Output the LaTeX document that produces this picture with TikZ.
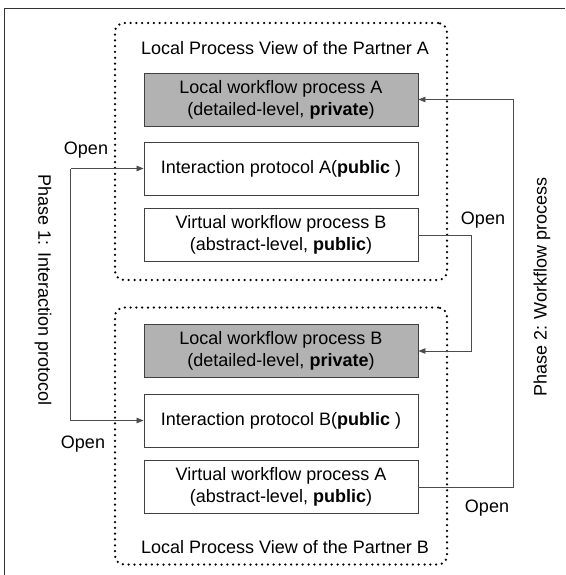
\documentclass[tikz,border=0pt]{standalone}
\usepackage{fontspec}
\setmainfont{Liberation Sans}
\usetikzlibrary{arrows.meta}

\begin{document}
\begin{tikzpicture}[x=1pt, y=-1pt,
  txt/.style={font=\fontsize{18}{22}\selectfont, align=center, inner sep=0pt},
  procbox/.style={txt, draw=black!75, line width=0.9pt, minimum width=274, minimum height=53},
  privbox/.style={procbox, fill=black!30},
  viewbox/.style={draw, line width=2.5pt, dash pattern=on 0pt off 5.8pt, line cap=round,
    rounded corners=9pt, minimum width=332, minimum height=257, inner sep=0pt},
  conn/.style={draw=black!70, line width=0.8pt},
  tip/.style={-{Triangle[length=7pt,width=5.5pt]}}]
  \useasboundingbox (0,0) rectangle (565,575);
  \draw [black!80, line width=0.9pt] (565,8) -- (4,8) -- (4,575);
  \node [viewbox] (viewA) at (281, 151.5) {};
  \node [viewbox] (viewB) at (281, 436) {};
  \node [txt] (titleA) at (285, 48) {Local Process View of the Partner A};
  \node [txt] (titleB) at (285, 547) {Local Process View of the Partner B};
  \node [privbox] (locA) at (281, 99.5) {Local workflow process A\\(detailed-level, \textbf{private})};
  \node [procbox] (intA) at (281, 168.5) {Interaction protocol A(\textbf{public} )};
  \node [procbox] (virtB) at (281, 235) {Virtual workflow process B\\(abstract-level, \textbf{public})};
  \node [privbox] (locB) at (281, 351) {Local workflow process B\\(detailed-level, \textbf{private})};
  \node [procbox] (intB) at (281, 420.5) {Interaction protocol B(\textbf{public} )};
  \node [procbox] (virtA) at (281, 487) {Virtual workflow process A\\(abstract-level, \textbf{public})};
  % phase 1
  \draw [conn, tip] (intA.west) ++(-73,0) coordinate (p1) -- (intA.west);
  \draw [conn, tip] (p1) |- (intB.west);
  \node [txt] (open1) at (86, 150) {Open};
  \node [txt] (open2) at (83, 444) {Open};
  \node [txt, rotate=-90] (phase1) at (43, 290) {Phase 1: Interaction protocol};
  % phase 2
  \draw [conn, tip] (virtB.east) -- ++(53,0) |- (locB.east);
  \draw [conn, tip] (virtA.east) -- ++(95,0) |- (locA.east);
  \node [txt] (open3) at (483, 220) {Open};
  \node [txt] (open4) at (487, 508) {Open};
  \node [txt, rotate=90] (phase2) at (542, 287) {Phase 2: Workflow process};
\end{tikzpicture}
\end{document}
